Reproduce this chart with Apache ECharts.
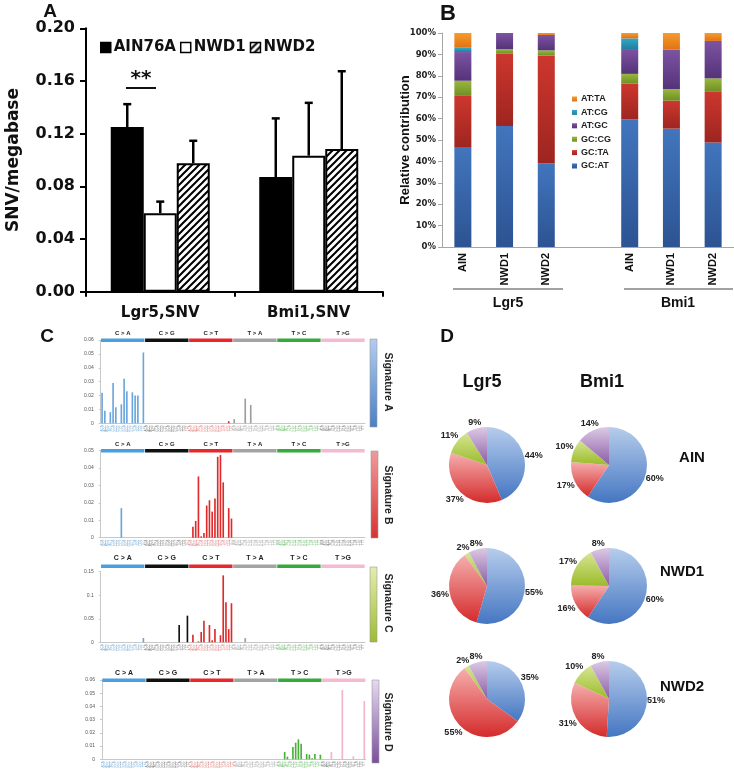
<!DOCTYPE html>
<html><head><meta charset="utf-8">
<script src="https://cdn.jsdelivr.net/npm/echarts@6.0.0/dist/echarts.min.js"></script>
<style>html,body{margin:0;padding:0;background:#fff}#c{width:734px;height:772px}</style>
</head><body><div id="c"></div>
<script>
// ---------- Panel A data ----------
const snvCategories = ['Lgr5,SNV', 'Bmi1,SNV'];
const snvAIN76A = [0.125, 0.087];
const snvNWD1 = [0.0596, 0.1033];
const snvNWD2 = [0.0975, 0.1083];
const errAIN76A = [0.1424, 0.1316];
const errNWD1 = [0.0684, 0.1434];
const errNWD2 = [0.1146, 0.1674];

// ---------- Panel B data ----------
const contribCategories = ['AIN', 'NWD1', 'NWD2', '', 'AIN', 'NWD1', 'NWD2'];
const gcAT = [46.4, 56.6, 39.1, null, 59.7, 55.3, 48.8];
const gcTA = [24.2, 33.7, 50.3, null, 16.6, 13.1, 23.7];
const gcCG = [7.1, 2.2, 2.5, null, 4.6, 5.4, 6.3];
const atGC = [13.4, 7.5, 7.2, null, 11.6, 18.4, 17.5];
const atCG = [2.0, 0, 0, null, 5.0, 0, 0];
const atTA = [6.9, 0, 0.9, null, 2.5, 7.8, 3.7];

// ---------- Panel C data ----------
const mutTypes = ['C > A', 'C > G', 'C > T', 'T > A', 'T > C', 'T >G'];
const bases = ['A', 'C', 'G', 'T'];
const contexts = [];
mutTypes.forEach(function (m) {
  const ref = m.charAt(0);
  bases.forEach(function (b1) { bases.forEach(function (b2) { contexts.push(b1 + ref + b2); }); });
});
const sigA = [
  0.022, 0.009, 0, 0.008, 0.029, 0.0115, 0, 0.0137, 0.032, 0.023, 0, 0.0223, 0.02, 0.02, 0, 0.051,
  0, 0, 0, 0, 0, 0, 0, 0, 0, 0, 0, 0, 0, 0, 0, 0,
  0, 0, 0, 0, 0, 0, 0, 0, 0, 0, 0, 0, 0, 0, 0.0015, 0,
  0.003, 0, 0, 0, 0.0178, 0, 0.0132, 0, 0, 0, 0, 0, 0, 0, 0, 0,
  0, 0, 0, 0, 0, 0, 0, 0, 0, 0, 0, 0, 0, 0, 0, 0,
  0, 0, 0, 0, 0, 0, 0, 0, 0, 0, 0, 0, 0, 0, 0, 0
];
const sigB = [
  0, 0, 0, 0, 0, 0, 0, 0.017, 0, 0, 0, 0, 0, 0, 0, 0,
  0, 0, 0, 0, 0, 0, 0, 0, 0, 0, 0, 0, 0, 0, 0, 0,
  0, 0.0063, 0.0096, 0.0352, 0.0008, 0.0027, 0.0185, 0.0215, 0.015, 0.0225, 0.0465, 0.0475, 0.0318, 0, 0.017, 0.011,
  0, 0, 0, 0, 0, 0, 0, 0, 0, 0, 0, 0, 0, 0, 0, 0,
  0, 0, 0, 0, 0, 0, 0, 0, 0, 0, 0, 0, 0, 0, 0, 0,
  0, 0, 0, 0, 0, 0, 0, 0, 0, 0, 0, 0, 0, 0, 0, 0
];
const sigC = [
  0, 0, 0, 0, 0, 0, 0, 0, 0, 0, 0, 0, 0, 0, 0, 0.0092,
  0, 0, 0, 0, 0, 0, 0, 0, 0, 0, 0, 0, 0.0368, 0, 0, 0.0566,
  0, 0.0163, 0, 0.002, 0.0219, 0.046, 0, 0.0368, 0.0042, 0.0283, 0, 0.0149, 0.1422, 0.085, 0.028, 0.083,
  0, 0, 0, 0, 0.009, 0, 0, 0, 0, 0, 0, 0, 0, 0, 0, 0,
  0, 0, 0, 0, 0, 0, 0, 0, 0, 0, 0, 0, 0, 0, 0, 0,
  0, 0, 0, 0, 0, 0, 0, 0, 0, 0, 0, 0, 0, 0, 0, 0
];
const sigD = [
  0, 0, 0, 0, 0, 0, 0, 0, 0, 0, 0, 0, 0, 0, 0, 0,
  0, 0, 0, 0, 0, 0, 0, 0, 0, 0, 0, 0, 0, 0, 0, 0,
  0, 0, 0, 0, 0, 0, 0, 0, 0, 0, 0, 0, 0, 0, 0, 0,
  0, 0, 0, 0, 0, 0, 0, 0, 0, 0, 0, 0, 0, 0, 0, 0,
  0, 0, 0.0055, 0.002, 0, 0.0093, 0.0126, 0.0151, 0.0118, 0, 0.004, 0.0035, 0.0008, 0.004, 0, 0.0035,
  0, 0, 0, 0.0055, 0, 0, 0, 0.0524, 0, 0, 0, 0.0023, 0, 0, 0, 0.0441
];
const sigNames = ['Signature A', 'Signature B', 'Signature C', 'Signature D'];
const sigMax = [0.06, 0.05, 0.15, 0.06];
const sigInterval = [0.01, 0.01, 0.05, 0.01];

// ---------- Panel D data ----------
const pieLgr5AIN = [44, 37, 11, 9];
const pieBmi1AIN = [60, 17, 10, 14];
const pieLgr5NWD1 = [55, 36, 2, 8];
const pieBmi1NWD1 = [60, 16, 17, 8];
const pieLgr5NWD2 = [35, 55, 2, 8];
const pieBmi1NWD2 = [51, 31, 10, 8];

// ---------- styles ----------
const FA = 'DejaVu Sans';
const FS = 'Liberation Sans';
function lin(c1, c2) {
  return { type: 'linear', x: 0, y: 0, x2: 0, y2: 1, colorStops: [{ offset: 0, color: c1 }, { offset: 1, color: c2 }] };
}
function hatch() {
  const s = 7, c = document.createElement('canvas');
  c.width = s; c.height = s;
  const g = c.getContext('2d');
  g.fillStyle = '#fff'; g.fillRect(0, 0, s, s);
  g.strokeStyle = '#000'; g.lineWidth = 2;
  g.beginPath();
  g.moveTo(-1, s + 1); g.lineTo(s + 1, -1);
  g.moveTo(-1, 1); g.lineTo(1, -1);
  g.moveTo(s - 1, s + 1); g.lineTo(s + 1, s - 1);
  g.stroke();
  return c;
}
const hatchPattern = { image: hatch(), repeat: 'repeat' };

const chart = echarts.init(document.getElementById('c'), null, { renderer: 'canvas' });

const grids = [], xAxes = [], yAxes = [], series = [], graphics = [];

// ===== Panel A =====
const barW = 33;
grids.push({ left: 86, top: 28.3, width: 297, height: 263.4 });
xAxes.push({
  gridIndex: 0, type: 'category', data: snvCategories,
  axisLine: { lineStyle: { color: '#000', width: 2 } },
  axisTick: { show: true, length: 5, lineStyle: { color: '#000', width: 2 } },
  axisLabel: { fontFamily: FA, fontWeight: 'bold', fontSize: 15, color: '#111', margin: 14 }
});
yAxes.push({
  gridIndex: 0, type: 'value', min: 0, max: 0.2, interval: 0.04,
  axisLine: { show: true, lineStyle: { color: '#000', width: 2 } },
  axisTick: { show: true, length: 6, lineStyle: { color: '#000', width: 2 } },
  axisLabel: { formatter: function (v) { return v.toFixed(2); }, fontFamily: FA, fontWeight: 'bold', fontSize: 16, color: '#111', margin: 11 },
  splitLine: { show: false },
  name: 'SNV/megabase', nameLocation: 'middle', nameGap: 64,
  nameTextStyle: { fontFamily: FA, fontWeight: 'bold', fontSize: 17, color: '#111' }
});
series.push(
  { name: 'AIN76A', type: 'bar', xAxisIndex: 0, yAxisIndex: 0, data: snvAIN76A, barWidth: barW, barGap: '0%',
    itemStyle: { color: '#000', borderColor: '#000', borderWidth: 2 } },
  { name: 'NWD1', type: 'bar', xAxisIndex: 0, yAxisIndex: 0, data: snvNWD1, barWidth: barW, barGap: '0%',
    itemStyle: { color: '#fff', borderColor: '#000', borderWidth: 2 } },
  { name: 'NWD2', type: 'bar', xAxisIndex: 0, yAxisIndex: 0, data: snvNWD2, barWidth: barW, barGap: '0%',
    itemStyle: { color: hatchPattern, borderColor: '#000', borderWidth: 2 } }
);
const errData = [];
[[snvAIN76A, errAIN76A], [snvNWD1, errNWD1], [snvNWD2, errNWD2]].forEach(function (p, k) {
  p[0].forEach(function (v, i) { errData.push([i, v, p[1][i], k]); });
});
series.push({
  type: 'custom', xAxisIndex: 0, yAxisIndex: 0, data: errData, silent: true, z: 3,
  renderItem: function (params, api) {
    const cat = api.value(0), v = api.value(1), e = api.value(2), k = api.value(3);
    const b = api.coord([cat, v]), t = api.coord([cat, e]);
    const x = b[0] + (k - 1) * barW;
    return { type: 'group', children: [
      { type: 'line', shape: { x1: x, y1: b[1], x2: x, y2: t[1] }, style: { stroke: '#000', lineWidth: 2.5 } },
      { type: 'line', shape: { x1: x - 4, y1: t[1], x2: x + 4, y2: t[1] }, style: { stroke: '#000', lineWidth: 2.5 } }
    ] };
  }
});

// ===== Panel B =====
grids.push({ left: 442, top: 33, width: 296, height: 214 });
xAxes.push({
  gridIndex: 1, type: 'category', data: contribCategories,
  axisLine: { lineStyle: { color: '#a6a6a6' } }, axisTick: { show: false },
  axisLabel: { rotate: 90, interval: 0, fontFamily: FS, fontWeight: 'bold', fontSize: 11, color: '#111', margin: 6 }
});
yAxes.push({
  gridIndex: 1, type: 'value', min: 0, max: 100, interval: 10,
  axisLine: { show: true, lineStyle: { color: '#a6a6a6' } },
  axisTick: { show: true, length: 4, lineStyle: { color: '#a6a6a6' } },
  axisLabel: { formatter: '{value}%', fontFamily: FA, fontWeight: 'bold', fontSize: 8.5, color: '#222', margin: 6 },
  splitLine: { show: false },
  name: 'Relative contribution', nameLocation: 'middle', nameGap: 30, nameMoveOverlap: false,
  nameTextStyle: { fontFamily: FS, fontWeight: 'bold', fontSize: 13, color: '#111' }
});
const bSeries = [
  ['GC:AT', gcAT, lin('#4275BD', '#2C5392')],
  ['GC:TA', gcTA, lin('#CC372E', '#9E2520')],
  ['GC:CG', gcCG, lin('#98B83C', '#6F8E25')],
  ['AT:GC', atGC, lin('#7D53A3', '#553378')],
  ['AT:CG', atCG, lin('#33A8C8', '#1F809E')],
  ['AT:TA', atTA, lin('#F59C2E', '#E27212')]
];
bSeries.forEach(function (s) {
  series.push({ name: s[0], type: 'bar', stack: 'contrib', xAxisIndex: 1, yAxisIndex: 1, data: s[1], barWidth: 17,
    itemStyle: { color: s[2] } });
});

// ===== Panel C =====
const barColors = ['#6AA6DE', '#111111', '#DE2A2A', '#9E9E9E', '#4DAE3E', '#F3B3CB'];
const bandColors = ['#4A9FE0', '#111111', '#E8262B', '#A3A3A3', '#36AA3C', '#F5B9D2'];
const labelColors = ['#7fb0d8', '#888', '#e08a8a', '#aaa', '#7cc07c', '#888'];
const sigData = [sigA, sigB, sigC, sigD];
const sigLayout = [
  { top: 340, bottom: 423.3, left: 100.7, right: 365, band: 338.5, fs: 6, lm: 2.5 },
  { top: 450.7, bottom: 537.7, left: 100.7, right: 365, band: 449, fs: 6, lm: 2 },
  { top: 571.7, bottom: 642.3, left: 100.7, right: 365, band: 564.5, fs: 7, lm: 3 },
  { top: 680, bottom: 759.3, left: 102, right: 365.7, band: 678.5, fs: 7, lm: 2 }
];
const sideGrad = [
  ['#B2CDEE', '#4A7FC6'], ['#F29A9A', '#D63232'], ['#E6ECB0', '#9CBC32'], ['#E6DAF0', '#7C4E9E']
];
const sideRect = [
  [370, 339, 7, 88, 382], [371, 451, 7, 87, 495], [370, 567, 7, 75, 603], [372, 680, 7, 83, 722]
];
sigData.forEach(function (d, s) {
  const L = sigLayout[s];
  const gi = grids.length;
  grids.push({ left: L.left, top: L.top, width: L.right - L.left, height: L.bottom - L.top });
  xAxes.push({
    gridIndex: gi, type: 'category', data: contexts,
    axisLine: { lineStyle: { color: '#c8c8c8' } }, axisTick: { show: false },
    axisLabel: { interval: 0, rotate: 90, fontSize: 3, margin: 2, fontFamily: FS,
      color: function (v, i) { return labelColors[Math.floor(i / 16)]; } }
  });
  yAxes.push({
    gridIndex: gi, type: 'value', min: 0, max: sigMax[s], interval: sigInterval[s],
    axisLine: { show: true, lineStyle: { color: '#c8c8c8' } },
    axisTick: { show: true, length: 2, lineStyle: { color: '#c8c8c8' } },
    axisLabel: { fontSize: 5, color: '#555', margin: 7, fontFamily: FS },
    splitLine: { show: false }
  });
  series.push({ type: 'bar', xAxisIndex: gi, yAxisIndex: gi, data: d, barCategoryGap: '40%', silent: true,
    itemStyle: { color: function (p) { return barColors[Math.floor(p.dataIndex / 16)]; } } });
  const bi = grids.length;
  grids.push({ left: L.left, top: L.band, width: L.right - L.left, height: 3.5 });
  xAxes.push({
    gridIndex: bi, type: 'category', data: mutTypes, position: 'top',
    axisLine: { show: false }, axisTick: { show: false },
    axisLabel: { fontSize: L.fs, fontWeight: 'bold', color: '#222', margin: L.lm, fontFamily: FS }
  });
  yAxes.push({ gridIndex: bi, type: 'value', min: 0, max: 1, show: false });
  series.push({ type: 'bar', xAxisIndex: bi, yAxisIndex: bi, data: [1, 1, 1, 1, 1, 1], barCategoryGap: '1.5%', silent: true,
    itemStyle: { color: function (p) { return bandColors[p.dataIndex]; } } });
  const r = sideRect[s];
  graphics.push({ type: 'rect', shape: { x: r[0], y: r[1], width: r[2], height: r[3] },
    style: { fill: lin(sideGrad[s][0], sideGrad[s][1]), stroke: '#9a9a9a', lineWidth: 0.6 } });
  graphics.push({ type: 'text', x: 388, y: r[4], rotation: -Math.PI / 2,
    style: { text: sigNames[s], fontSize: 10.5, fontWeight: 'bold', fontFamily: FS, fill: '#222', align: 'center', verticalAlign: 'middle' } });
});

// ===== Panel D =====
const pieGradColors = [['#B6CDEC', '#4576C2'], ['#F6AEAE', '#D42B2B'], ['#D6E592', '#9ABB2A'], ['#DCCAE5', '#8A5CA6']];
const pieR = 38;
function pie(data, cx, cy) {
  const total = data.reduce(function (a, b) { return a + b; }, 0);
  return {
    type: 'pie', center: [cx, cy], radius: pieR, startAngle: 90, clockwise: true, silent: true,
    avoidLabelOverlap: false,
    label: { show: true, position: 'outside', formatter: '{c}%', fontSize: 9, fontWeight: 'bold', color: '#222',
      fontFamily: FS, distanceToLabelLine: 0 },
    labelLine: { show: false, length: 1, length2: 0 },
    labelLayout: function (p) {
      let before = 0;
      for (let i = 0; i < p.dataIndex; i++) before += data[i];
      const mid = (before + data[p.dataIndex] / 2) / total * Math.PI * 2;
      const ux = Math.sin(mid), uy = -Math.cos(mid);
      const w = p.labelRect.width, h = p.labelRect.height;
      const d = pieR + Math.abs(ux) * w / 2 + Math.abs(uy) * h / 2;
      return { x: cx + ux * d, y: cy + uy * d, align: 'center', verticalAlign: 'middle' };
    },
    data: data.map(function (v, i) { return { value: v, itemStyle: { color: lin(pieGradColors[i][0], pieGradColors[i][1]) } }; })
  };
}
series.push(pie(pieLgr5AIN, 487, 465), pie(pieBmi1AIN, 609, 465),
  pie(pieLgr5NWD1, 487, 586), pie(pieBmi1NWD1, 609, 586),
  pie(pieLgr5NWD2, 487, 699), pie(pieBmi1NWD2, 609, 699));

// ===== texts / annotations =====
function txt(t, x, y, size, extra) {
  return Object.assign({ type: 'text', x: x, y: y,
    style: { text: t, fontSize: size, fontWeight: 'bold', fontFamily: FS, fill: '#111', align: 'center', verticalAlign: 'middle' } }, extra || {});
}
graphics.push(
  txt('A', 50, 12, 19), txt('B', 448, 14, 22), txt('C', 47, 337, 19), txt('D', 447, 337, 19),
  { type: 'text', x: 141, y: 79, style: { text: '**', fontSize: 20, fontWeight: 'bold', fontFamily: FA, fill: '#111', align: 'center', verticalAlign: 'middle' } },
  { type: 'line', shape: { x1: 126, y1: 88, x2: 156, y2: 88 }, style: { stroke: '#111', lineWidth: 2 } },
  { type: 'line', shape: { x1: 453, y1: 289, x2: 563, y2: 289 }, style: { stroke: '#444', lineWidth: 1 } },
  { type: 'line', shape: { x1: 624, y1: 289, x2: 733, y2: 289 }, style: { stroke: '#444', lineWidth: 1 } },
  txt('Lgr5', 508, 303, 14), txt('Bmi1', 678, 303, 14),
  txt('Lgr5', 482, 382, 18), txt('Bmi1', 602, 382, 18),
  txt('AIN', 692, 458, 15), txt('NWD1', 682, 572, 15), txt('NWD2', 682, 687, 15)
);

chart.setOption({
  animation: false,
  backgroundColor: '#fff',
  grid: grids, xAxis: xAxes, yAxis: yAxes, series: series,
  legend: [
    { data: [
        { name: 'AIN76A', itemStyle: { color: '#000', borderColor: '#000', borderWidth: 1.5 } },
        { name: 'NWD1', itemStyle: { color: '#fff', borderColor: '#000', borderWidth: 1.5 } },
        { name: 'NWD2', itemStyle: { color: hatchPattern, borderColor: '#000', borderWidth: 1.5 } }
      ],
      left: 95, top: 35, itemWidth: 10, itemHeight: 10, itemGap: 4, icon: 'rect', selectedMode: false,
      textStyle: { fontFamily: FA, fontWeight: 'bold', fontSize: 15, color: '#111', padding: [0, 0, 0, -2] } },
    { data: ['AT:TA', 'AT:CG', 'AT:GC', 'GC:CG', 'GC:TA', 'GC:AT'], orient: 'vertical',
      left: 567, top: 89, itemWidth: 5, itemHeight: 5, itemGap: 3.4, icon: 'rect', selectedMode: false,
      textStyle: { fontFamily: FS, fontWeight: 'bold', fontSize: 9, color: '#222', lineHeight: 10, padding: [0, 0, 0, -1] } }
  ],
  graphic: { elements: graphics }
});
</script></body></html>
